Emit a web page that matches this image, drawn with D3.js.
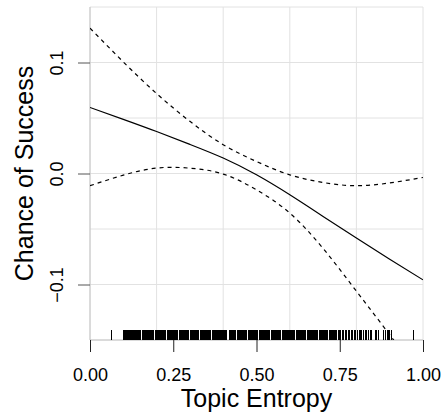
<!DOCTYPE html>
<html>
<head>
<meta charset="utf-8">
<script src="https://d3js.org/d3.v7.min.js"></script>
<style>
  body { margin: 0; background: #fff; }
  text { font-family: "Liberation Sans", Arial, Helvetica, sans-serif; }
</style>
</head>
<body>
<div class="chart"></div>
<script>
// smooth term: entropy grid, fitted effect, upper and lower bands
const entropy = [0, 0.1, 0.2, 0.3, 0.4, 0.5, 0.6, 0.7, 0.8, 0.9, 1.0];
const fit   = [0.0595, 0.0488, 0.0378, 0.0262, 0.0139, -0.0012, -0.0192, -0.0387, -0.0582, -0.0772, -0.0958];
const upper = [0.131, 0.1005, 0.072, 0.047, 0.026, 0.0108, -0.0012, -0.0081, -0.011, -0.0085, -0.0036];
const lower = [-0.011, -0.0015, 0.0049, 0.0048, -0.0005, -0.0147, -0.0357, -0.0675, -0.106, -0.1453, -0.186];

// observed topic entropy values (rug)
const rugValues = [
  0.066,
  0.101, 0.104, 0.107, 0.109, 0.113, 0.116, 0.118, 0.122, 0.125, 0.128, 0.131, 0.134, 0.137, 0.141, 0.144, 0.146,
  0.150, 0.153, 0.157, 0.160, 0.163, 0.166, 0.170, 0.173, 0.176, 0.179, 0.183, 0.186, 0.189, 0.192, 0.196, 0.199,
  0.202, 0.205, 0.209, 0.212, 0.215, 0.218, 0.222, 0.225, 0.228, 0.232, 0.235, 0.238, 0.241, 0.245, 0.248,
  0.251, 0.255, 0.258, 0.261, 0.264, 0.268, 0.271, 0.274, 0.278, 0.281, 0.284, 0.288, 0.291, 0.294, 0.297,
  0.301, 0.304, 0.307, 0.311, 0.314, 0.317, 0.320, 0.324, 0.327, 0.331, 0.334, 0.337, 0.340, 0.344, 0.347,
  0.350, 0.353, 0.357, 0.360, 0.363, 0.367, 0.370, 0.373, 0.376, 0.380, 0.383, 0.386, 0.390, 0.393, 0.396, 0.399,
  0.402, 0.405, 0.408, 0.411, 0.419, 0.422, 0.425, 0.429, 0.432, 0.435, 0.438, 0.442, 0.445, 0.448,
  0.452, 0.455, 0.458, 0.461, 0.465, 0.468, 0.471, 0.475, 0.478, 0.481, 0.484, 0.488, 0.491, 0.494, 0.498,
  0.501, 0.504, 0.508, 0.511, 0.514, 0.517, 0.521, 0.524, 0.527, 0.531, 0.534, 0.537, 0.540, 0.544, 0.547,
  0.550, 0.554, 0.557, 0.560, 0.563, 0.567, 0.570, 0.573, 0.577, 0.580, 0.583, 0.586, 0.590, 0.593, 0.596, 0.599,
  0.602, 0.606, 0.609, 0.612, 0.615, 0.619, 0.622, 0.625, 0.629, 0.632, 0.635, 0.638, 0.642, 0.645, 0.648,
  0.652, 0.655, 0.658, 0.661, 0.665, 0.668, 0.671, 0.675, 0.678, 0.681, 0.684, 0.688, 0.691, 0.694, 0.698,
  0.701, 0.704, 0.708, 0.711, 0.714, 0.718, 0.721, 0.724, 0.728, 0.731, 0.734, 0.738, 0.741, 0.745, 0.749,
  0.753, 0.757, 0.761, 0.766, 0.770, 0.775, 0.779, 0.784, 0.789, 0.793, 0.798,
  0.803, 0.808, 0.812, 0.816, 0.821, 0.826, 0.831, 0.836, 0.841, 0.846, 0.856, 0.861, 0.865,
  0.880, 0.886, 0.892, 0.895, 0.898, 0.906, 0.970
];

const xTicks = [0, 0.25, 0.5, 0.75, 1.0];
const yTicks = [-0.1, 0.0, 0.1];
const xGrid = [0, 0.2, 0.4, 0.6, 0.8, 1.0];
const yGrid = [-0.15, -0.1, -0.05, 0, 0.05, 0.1, 0.15];

const margin = { top: 7, right: 21, bottom: 78, left: 90 };
const width = 444 - margin.left - margin.right,
  height = 418 - margin.top - margin.bottom;

const svg = d3.select(".chart")
  .append("svg")
  .attr("width", 444)
  .attr("height", 418)
  .append("g")
  .attr("transform", "translate(" + margin.left + "," + margin.top + ")");

const x = d3.scaleLinear().domain([0, 1]).range([0, width]);
const y = d3.scaleLinear().domain([-0.15, 0.15]).range([height, 0]);

// grid
svg.append("g").selectAll("line").data(yGrid).enter().append("line")
  .attr("x1", 0).attr("x2", width)
  .attr("y1", d => y(d)).attr("y2", d => y(d))
  .attr("stroke", "#e2e2e2").attr("stroke-width", 1);
svg.append("g").selectAll("line").data(xGrid).enter().append("line")
  .attr("x1", d => x(d)).attr("x2", d => x(d))
  .attr("y1", 0).attr("y2", height)
  .attr("stroke", "#e2e2e2").attr("stroke-width", 1);

// left / bottom frame lines
svg.append("line").attr("x1", 0).attr("x2", 0).attr("y1", 0).attr("y2", height)
  .attr("stroke", "#c4c4c4");
svg.append("line").attr("x1", 0).attr("x2", width).attr("y1", height).attr("y2", height)
  .attr("stroke", "#c4c4c4");

// axes
const xAxis = d3.axisBottom(x).tickValues(xTicks).tickFormat(d3.format(".2f")).tickSize(12);
const yAxis = d3.axisLeft(y).tickValues(yTicks).tickFormat(d3.format(".1f")).tickSize(12);

const gx = svg.append("g").attr("transform", `translate(0, ${height})`).call(xAxis);
gx.select(".domain").remove();
gx.selectAll(".tick line").attr("stroke", "#222");
gx.selectAll(".tick text")
  .style("font-size", "18px")
  .attr("fill", "#000")
  .attr("dy", null)
  .attr("y", 41);

const gy = svg.append("g").call(yAxis);
gy.select(".domain").remove();
gy.selectAll(".tick line").attr("stroke", "#555");
gy.selectAll(".tick text")
  .style("font-size", "18px")
  .attr("fill", "#000")
  .attr("text-anchor", "middle")
  .attr("dy", null)
  .attr("x", null)
  .attr("transform", "translate(-27,0) rotate(-90)");

// clip for curves
svg.append("clipPath").attr("id", "panel")
  .append("rect").attr("width", width).attr("height", height);

const line = (vals) => d3.line()
  .x((d, i) => x(entropy[i]))
  .y(d => y(d))
  .curve(d3.curveNatural)(vals);

const curves = svg.append("g").attr("clip-path", "url(#panel)");
curves.append("path").attr("d", line(fit))
  .attr("fill", "none").attr("stroke", "#000").attr("stroke-width", 1.2);
curves.append("path").attr("d", line(upper))
  .attr("fill", "none").attr("stroke", "#000").attr("stroke-width", 1.2)
  .attr("stroke-dasharray", "4,4");
curves.append("path").attr("d", line(lower))
  .attr("fill", "none").attr("stroke", "#000").attr("stroke-width", 1.2)
  .attr("stroke-dasharray", "4,4");

// rug
svg.append("g").selectAll("line").data(rugValues).enter().append("line")
  .attr("x1", d => x(d)).attr("x2", d => x(d))
  .attr("y1", height - 10).attr("y2", height)
  .attr("stroke", "#000").attr("stroke-width", 1)
  .attr("shape-rendering", "crispEdges");

// titles
svg.append("text")
  .attr("x", width / 2).attr("y", height + 67)
  .attr("text-anchor", "middle")
  .style("font-size", "25px")
  .text("Topic Entropy");

svg.append("text")
  .attr("transform", `translate(-57, ${height / 2}) rotate(-90)`)
  .attr("text-anchor", "middle")
  .style("font-size", "25px")
  .text("Chance of Success");
</script>
</body>
</html>
